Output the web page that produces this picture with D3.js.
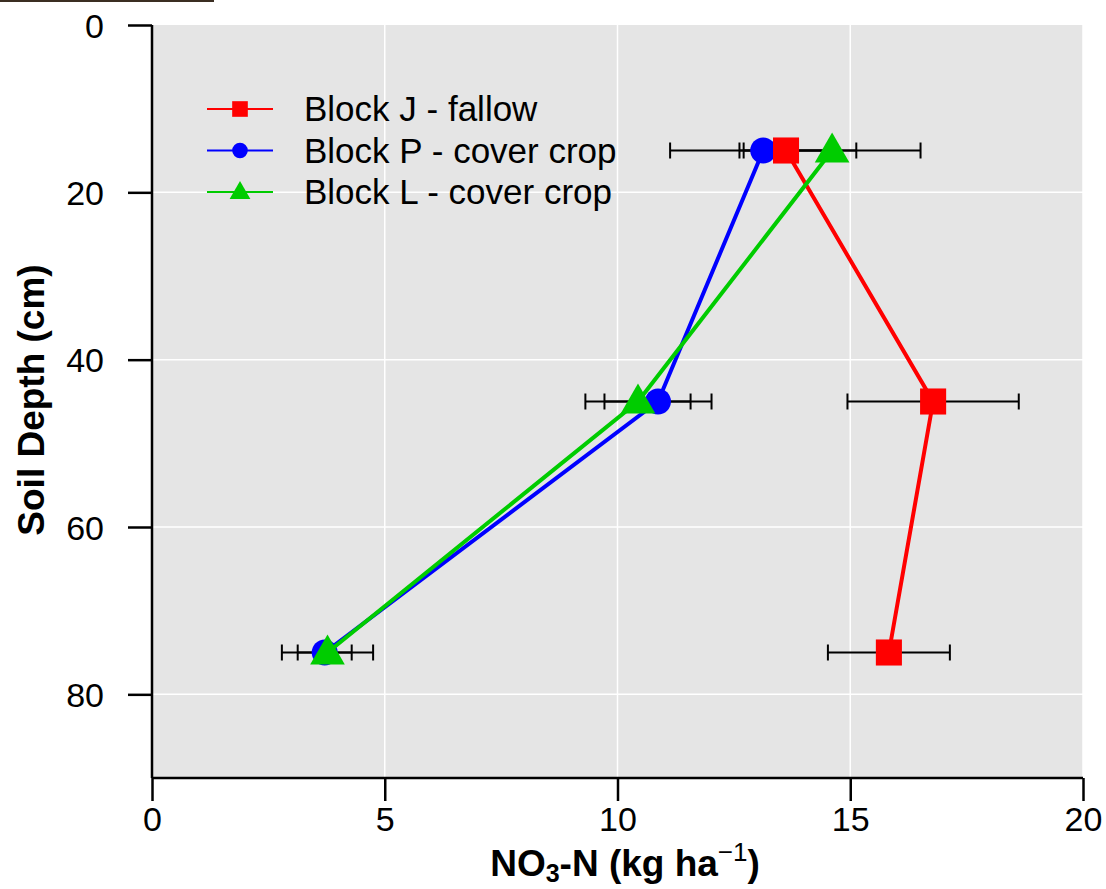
<!DOCTYPE html>
<html>
<head>
<meta charset="utf-8">
<script src="https://cdn.jsdelivr.net/npm/d3@7"></script>
<style>
  body { margin: 0; background: #fff; }
  text { font-family: Arial, "Liberation Sans", sans-serif; }
</style>
</head>
<body>
<svg width="1106" height="889"></svg>
<script>
const depths = [15, 45, 75];
const blockJ = [13.62, 16.78, 15.83];
const blockJErr = [1.0, 1.84, 1.31];
const blockP = [13.13, 10.87, 3.71];
const blockPErr = [2.0, 1.15, 0.58];
const blockL = [14.61, 10.44, 3.77];
const blockLErr = [1.9, 1.13, 0.98];
const xTicks = [0, 5, 10, 15, 20];
const yTicks = [0, 20, 40, 60, 80];
const seriesNames = ["Block J - fallow", "Block P - cover crop", "Block L - cover crop"];

const svg = d3.select("svg");
const pLeft = 152, pRight = 1083, pTop = 25, pBottom = 778;

const x = d3.scaleLinear().domain([0, 20]).range([pLeft, pRight]);
const y = d3.scaleLinear().domain([0, 90]).range([pTop, pBottom]);

// crop artifact strip at top-left
svg.append("rect").attr("x", 0).attr("y", 0).attr("width", 214).attr("height", 2).attr("fill", "#3b2e22");

// panel
svg.append("rect")
    .attr("x", pLeft).attr("y", pTop)
    .attr("width", pRight - pLeft).attr("height", pBottom - pTop)
    .attr("fill", "#e5e5e5");

// grid
svg.selectAll(".gx").data(xTicks.slice(1)).enter().append("line")
    .attr("x1", d => x(d)).attr("x2", d => x(d))
    .attr("y1", pTop).attr("y2", pBottom)
    .attr("stroke", "#fff").attr("stroke-width", 1.5);
svg.selectAll(".gy").data(yTicks.slice(1)).enter().append("line")
    .attr("x1", pLeft).attr("x2", pRight)
    .attr("y1", d => y(d)).attr("y2", d => y(d))
    .attr("stroke", "#fff").attr("stroke-width", 1.5);

// axes
const xAxis = svg.append("g")
    .attr("transform", `translate(0,${pBottom})`)
    .call(d3.axisBottom(x).tickValues(xTicks).tickSize(23).tickPadding(6).tickSizeOuter(0));
const yAxis = svg.append("g")
    .attr("transform", `translate(${pLeft},0)`)
    .call(d3.axisLeft(y).tickValues(yTicks).tickSize(24).tickPadding(24).tickSizeOuter(0));
[xAxis, yAxis].forEach(a => {
    a.select(".domain").attr("stroke", "#000").attr("stroke-width", 2.5);
    a.selectAll(".tick line").attr("stroke", "#000").attr("stroke-width", 2.5);
    a.selectAll(".tick text").attr("fill", "#000")
        .style("font-size", "34px").style("font-family", "Arial, 'Liberation Sans', sans-serif");
});
yAxis.select(".domain").attr("d", `M0,${pTop}V${pBottom}`);
xAxis.select(".domain").attr("d", `M${pLeft},0H${pRight}`);
yAxis.selectAll(".tick text").attr("dy", "0.36em");

// axis titles
svg.append("text")
    .attr("transform", `translate(44,400) rotate(-90)`)
    .attr("text-anchor", "middle")
    .style("font-size", "37px").style("font-weight", "bold")
    .text("Soil Depth (cm)");

const xt = svg.append("text")
    .attr("x", 625).attr("y", 876)
    .attr("text-anchor", "middle")
    .style("font-size", "37px").style("font-weight", "bold");
xt.append("tspan").text("NO");
xt.append("tspan").attr("dy", 6).style("font-size", "25px").text("3");
xt.append("tspan").attr("dy", -6).text("-N (kg ha");
xt.append("tspan").attr("dy", -15).style("font-size", "26px").style("font-weight", "normal").text("\u22121");
xt.append("tspan").attr("dy", 15).text(")");

// series
const series = [
    { name: seriesNames[1], vals: blockP, err: blockPErr, color: "#0000ff", shape: d3.symbolCircle },
    { name: seriesNames[0], vals: blockJ, err: blockJErr, color: "#ff0000", shape: d3.symbolSquare },
    { name: seriesNames[2], vals: blockL, err: blockLErr, color: "#00cc00", shape: d3.symbolTriangle }
];

// error bars
series.forEach(s => {
    const g = svg.append("g");
    depths.forEach((dep, i) => {
        const lo = s.vals[i] - s.err[i], hi = s.vals[i] + s.err[i];
        g.append("line").attr("x1", x(lo)).attr("x2", x(hi))
            .attr("y1", y(dep)).attr("y2", y(dep))
            .attr("stroke", "#000").attr("stroke-width", 2);
        [lo, hi].forEach(v => g.append("line")
            .attr("x1", x(v)).attr("x2", x(v))
            .attr("y1", y(dep) - 8).attr("y2", y(dep) + 8)
            .attr("stroke", "#000").attr("stroke-width", 2));
    });
});

function sym(shape, scale) {
    const area = shape === d3.symbolCircle ? 530 : shape === d3.symbolSquare ? 680 : 520;
    return d3.symbol().type(shape).size(area * scale)();
}

series.forEach(s => {
    const pts = depths.map((d, i) => [s.vals[i], d]);
    svg.append("path").datum(pts)
        .attr("fill", "none").attr("stroke", s.color).attr("stroke-width", 4)
        .attr("d", d3.line().x(d => x(d[0])).y(d => y(d[1])));
    svg.selectAll(null).data(pts).enter().append("path")
        .attr("transform", d => `translate(${x(d[0])},${y(d[1]) + (s.shape === d3.symbolTriangle ? 2 : 0)})`)
        .attr("d", sym(s.shape, 1))
        .attr("fill", s.color);
});

// legend
const legend = [
    { name: seriesNames[0], color: "#ff0000", shape: d3.symbolSquare },
    { name: seriesNames[1], color: "#0000ff", shape: d3.symbolCircle },
    { name: seriesNames[2], color: "#00cc00", shape: d3.symbolTriangle }
];
legend.forEach((l, i) => {
    const ly = 109 + i * 41.5;
    svg.append("line").attr("x1", 207).attr("x2", 273).attr("y1", ly).attr("y2", ly)
        .attr("stroke", l.color).attr("stroke-width", 2);
    svg.append("path").attr("transform", `translate(240,${ly + (l.shape === d3.symbolTriangle ? 1 : 0)})`)
        .attr("d", sym(l.shape, 0.36)).attr("fill", l.color);
    svg.append("text").attr("x", 304).attr("y", ly + 12)
        .style("font-size", "35px").text(l.name);
});
</script>
</body>
</html>
